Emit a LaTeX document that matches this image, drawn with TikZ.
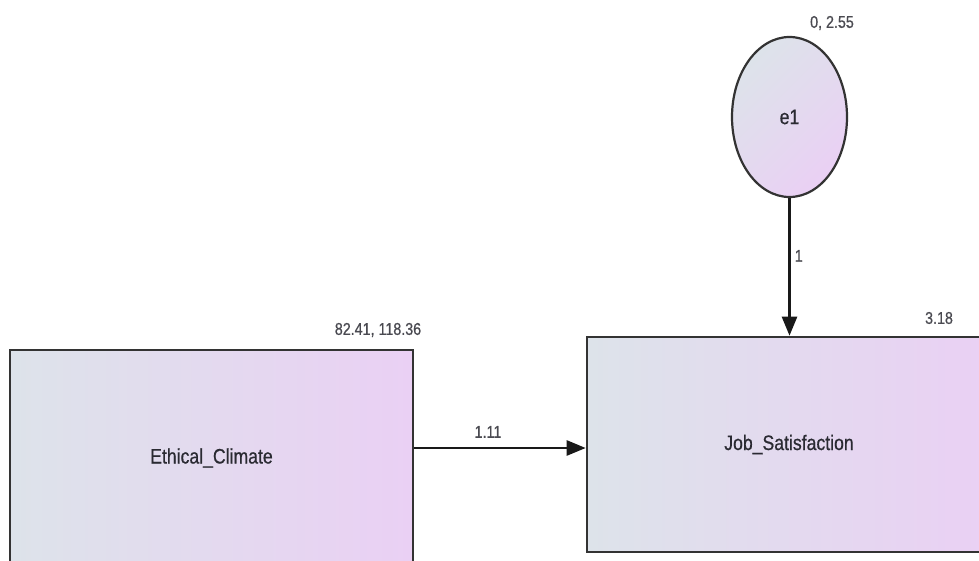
\documentclass[tikz,border=0pt]{standalone}
\usepackage{fontspec}
\setmainfont{Liberation Sans}
\newfontfamily\condfont[FakeStretch=0.84,FakeBold=0.6]{Liberation Sans}
\usetikzlibrary{arrows.meta,shapes.geometric}
\definecolor{shadeL}{HTML}{DDE3EA}
\definecolor{shadeR}{HTML}{EAD0F4}
\definecolor{lineC}{HTML}{333333}
\definecolor{txtC}{HTML}{2A2A32}
\begin{document}
\begin{tikzpicture}[x=1pt,y=-1pt,
  varbox/.style={rectangle, draw=lineC, line width=2.6pt, inner sep=0pt,
    left color=shadeL, right color=shadeR,
    font=\condfont\fontsize{21}{21}\selectfont, text=txtC},
  errvar/.style={ellipse, draw=lineC, line width=2.2pt, inner sep=0pt,
    minimum width=115pt, minimum height=160pt,
    shading=axis, top color=shadeL, bottom color=shadeR, shading angle=45,
    font=\condfont\fontsize{21}{21}\selectfont, text=txtC},
  numlbl/.style={font=\condfont\fontsize{17}{17}\selectfont, text=txtC!85, inner sep=0pt},
  arr/.style={draw=black!90, line width=2.5pt, -{Triangle[length=19pt,width=15pt]}}]
\useasboundingbox (0,0) rectangle (979,561);
\clip (0,0) rectangle (979,561);
\fill[white] (0,0) rectangle (979,561);

\node[varbox, minimum width=403pt, minimum height=216pt] (ec) at (211.5,458) {Ethical\_Climate};
\node[varbox, minimum width=404pt, minimum height=215pt] (js) at (789,444.5) {Job\_Satisfaction};
\node[errvar] (e1) at (789.5,117) {e1};

\node[numlbl] (ecl) at (378,330) {82.41, 118.36};
\node[numlbl] (jsl) at (939,318) {3.18};
\node[numlbl] (e1l) at (832,23) {0, 2.55};

\draw[arr] ([yshift=10pt]ec.east) -- ([yshift=10pt]ec.east -| js.west)
  node[numlbl, pos=0.43, above=9pt] (b1) {1.11};
\draw[arr] (e1.south) -- (e1.south |- js.north)
  node[numlbl, pos=0.42, right=4pt] (b2) {1};
\end{tikzpicture}
\end{document}
